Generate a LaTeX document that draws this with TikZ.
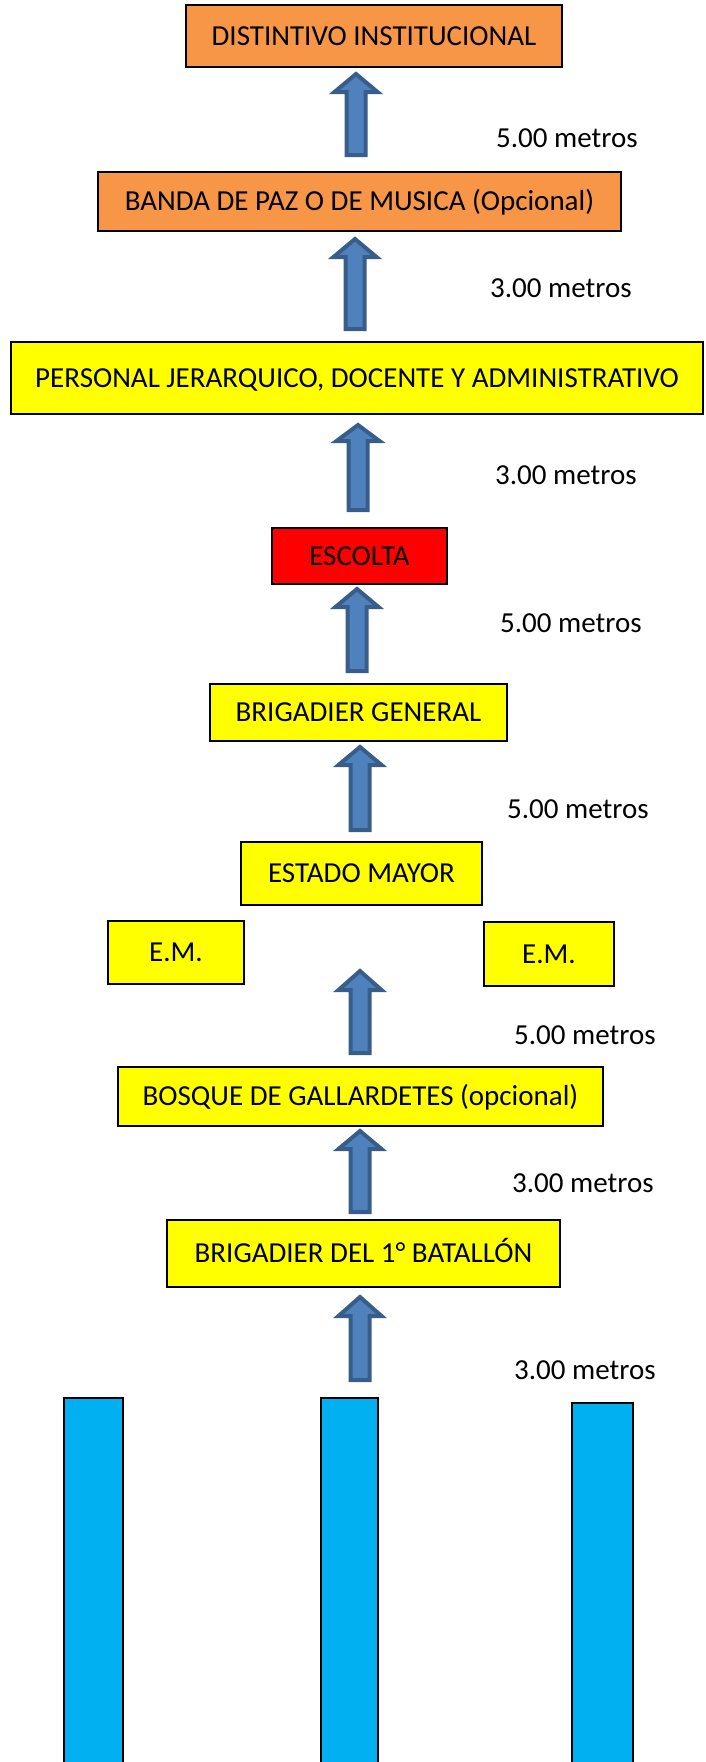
\documentclass[tikz,border=0pt]{standalone}
\usepackage{fontspec}
\setmainfont{Carlito}
\definecolor{orng}{HTML}{F79646}
\definecolor{ylw}{HTML}{FFFF00}
\definecolor{rd}{HTML}{FF0000}
\definecolor{barblue}{HTML}{00B0F0}
\definecolor{arrfill}{HTML}{4F81BD}
\definecolor{arrline}{HTML}{385D8A}
\newcommand{\blockarrow}[4]{% center x, tip y, head base y, bottom y
  \draw[blockarr] ({#1-9.5},{#4-2}) -- ({#1-9.5},{#3-2}) -- ({#1-21.5},{#3-2}) -- (#1,{#2+3}) --
    ({#1+21.5},{#3-2}) -- ({#1+9.5},{#3-2}) -- ({#1+9.5},{#4-2}) -- cycle;}
\begin{document}
\begin{tikzpicture}[x=1pt,y=-1pt,
  box/.style={draw=black, line width=1.8pt, inner sep=0pt, align=center,
    font=\fontsize{29}{34}\selectfont, text height=18.6pt, text depth=0pt},
  dist/.style={anchor=west, inner sep=0pt, font=\fontsize{29}{34}\selectfont,
    text height=18.6pt, text depth=0pt},
  blockarr/.style={fill=arrfill, draw=arrline, line width=4pt, line join=miter},
  bar/.style={fill=barblue, draw=black, line width=1.8pt}]
\useasboundingbox (0,0) rectangle (705,1762);

% boxes
\node[box, fill=orng, minimum width=376, minimum height=62] (dist) at (374,36) {DISTINTIVO INSTITUCIONAL};
\node[box, fill=orng, minimum width=523, minimum height=59] (banda) at (359.5,201.5) {BANDA DE PAZ O DE MUSICA (Opcional)};
\node[box, fill=ylw, minimum width=692, minimum height=72] (personal) at (357,378) {PERSONAL JERARQUICO, DOCENTE Y ADMINISTRATIVO};
\node[box, fill=rd, minimum width=175, minimum height=56] (escolta) at (359.5,556) {ESCOLTA};
\node[box, fill=ylw, minimum width=297, minimum height=57] (brigen) at (358.5,712.5) {BRIGADIER GENERAL};
\node[box, fill=ylw, minimum width=241, minimum height=63] (estado) at (361.5,873.5) {ESTADO MAYOR};
\node[box, fill=ylw, minimum width=136, minimum height=63] (emleft) at (176,952.5) {E.M.};
\node[box, fill=ylw, minimum width=130, minimum height=64] (emright) at (549,954) {E.M.};
\node[box, fill=ylw, minimum width=485, minimum height=59] (bosque) at (360.5,1096.5) {BOSQUE DE GALLARDETES (opcional)};
\node[box, fill=ylw, minimum width=393, minimum height=67] (brig1) at (363.5,1253.5) {BRIGADIER DEL 1° BATALLÓN};

% block arrows
\blockarrow{356}{71}{94}{157}
\blockarrow{355}{236}{259}{331}
\blockarrow{358}{422}{443}{512}
\blockarrow{357}{586}{609}{673}
\blockarrow{360}{744}{767}{832}
\blockarrow{360}{968}{992}{1055}
\blockarrow{360}{1128}{1151}{1214}
\blockarrow{360}{1294}{1318}{1382}

% distance labels
\node[dist] (d1) at (496,138) {5.00 metros};
\node[dist] (d2) at (490,288) {3.00 metros};
\node[dist] (d3) at (495,475) {3.00 metros};
\node[dist] (d4) at (500,623) {5.00 metros};
\node[dist] (d5) at (507,809) {5.00 metros};
\node[dist] (d6) at (514,1035) {5.00 metros};
\node[dist] (d7) at (512,1183) {3.00 metros};
\node[dist] (d8) at (514,1370) {3.00 metros};

% columns
\draw[bar] (64,1775) rectangle (123,1398);
\draw[bar] (321,1775) rectangle (378,1398);
\draw[bar] (572,1775) rectangle (633,1403);
\end{tikzpicture}
\end{document}
